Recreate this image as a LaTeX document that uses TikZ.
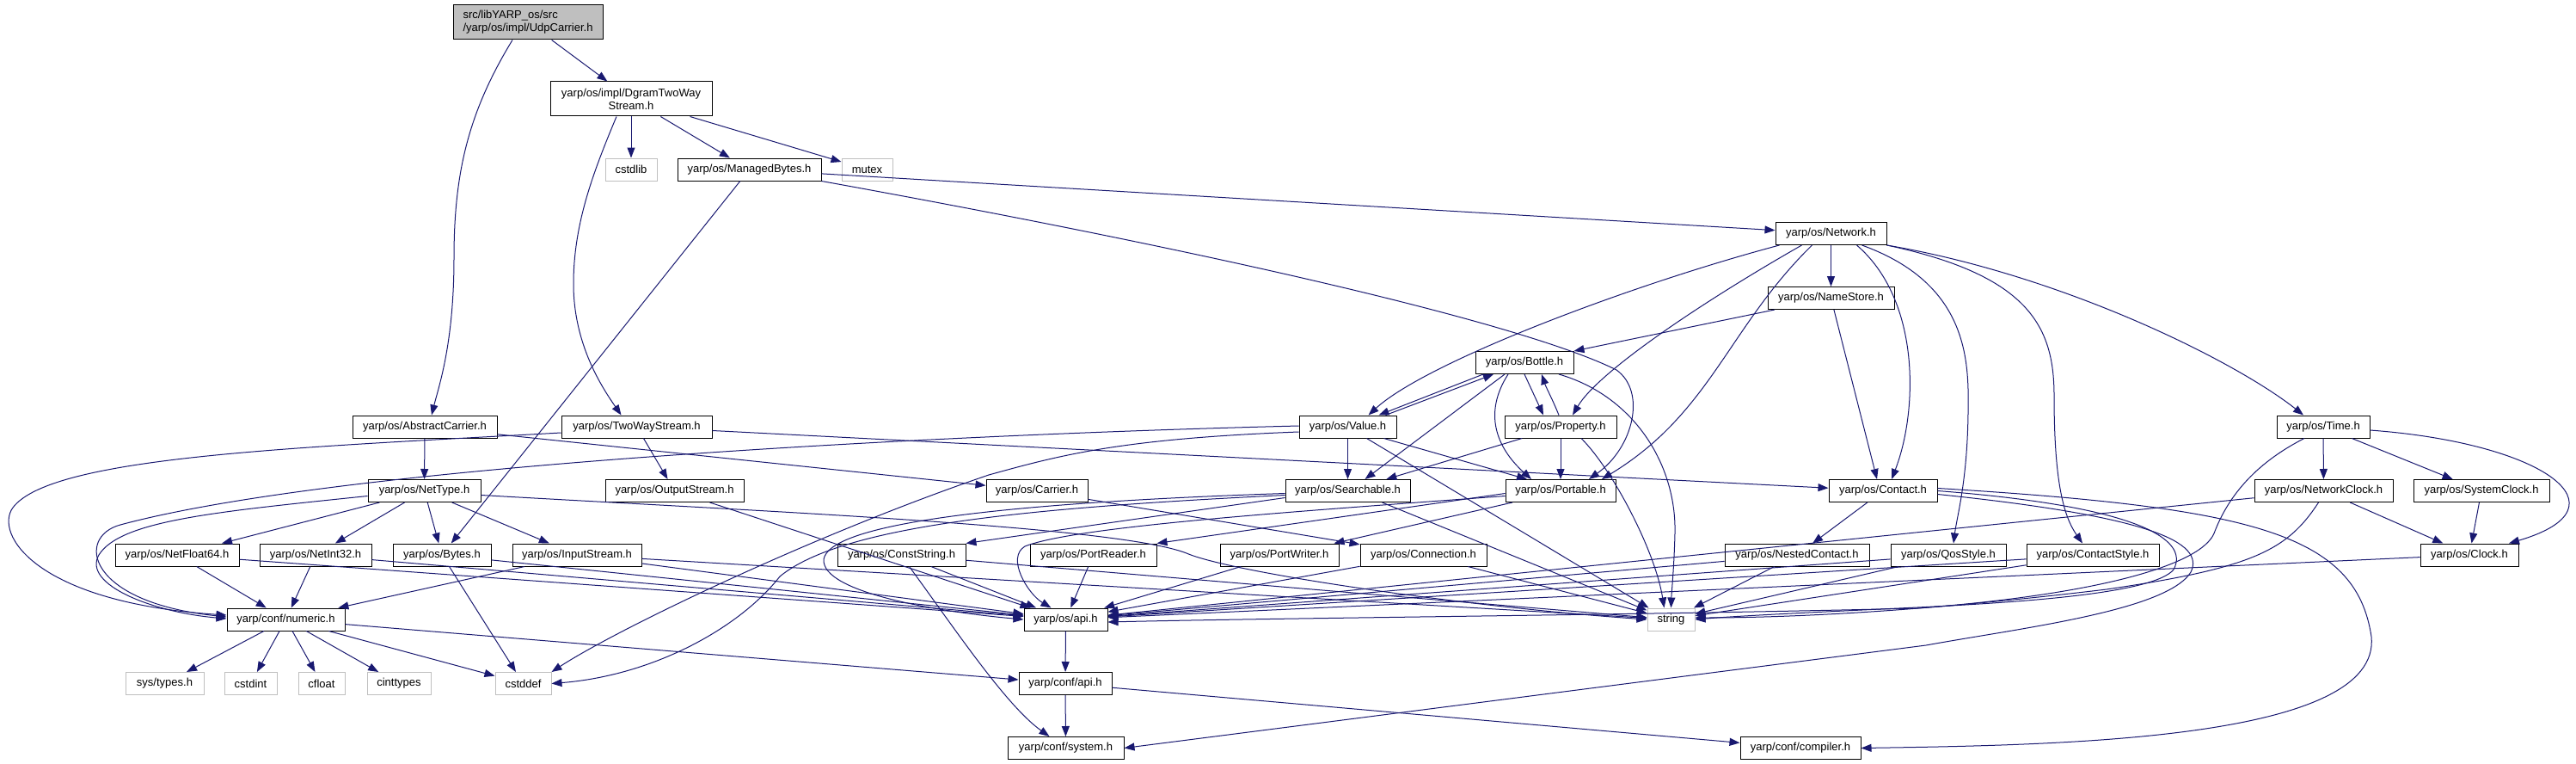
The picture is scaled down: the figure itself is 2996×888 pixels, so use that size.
\documentclass[tikz,border=0pt]{standalone}
\usepackage{fontspec}
\newfontfamily\hfont{Liberation Sans}
\usetikzlibrary{arrows.meta}
\definecolor{edgeblue}{HTML}{191970}
\definecolor{sysgray}{HTML}{BFBFBF}

\begin{document}
\begin{tikzpicture}[
  x=1pt, y=-1pt,
  >={Triangle[length=12pt,width=9pt]},
  hdr/.style={draw=black, line width=1pt, fill=white, inner sep=0pt,
    minimum height=26pt, font=\hfont\fontsize{13}{15}\selectfont},
  sys/.style={hdr, draw=sysgray},
  root/.style={hdr, fill=sysgray, minimum height=40pt},
  inc/.style={draw=edgeblue, line width=1pt, ->},
  every edge/.style={inc},
]
\useasboundingbox (0,0) rectangle (2996,888);

\node[root, minimum width=174pt, align=left] (udp) at (614,26) {src/libYARP\_os/src\\/yarp/os/impl/UdpCarrier.h};
\node[hdr, minimum width=188pt, minimum height=40pt, align=center] (dgram) at (734,115) {yarp/os/impl/DgramTwoWay\\Stream.h};
\node[sys, minimum width=60pt]  (cstdlib)    at (734,197)      {cstdlib};
\node[hdr, minimum width=167pt] (mbytes)     at (871.5,197)    {yarp/os/ManagedBytes.h};
\node[sys, minimum width=59pt]  (mutex)      at (1008.5,197)   {mutex};
\node[hdr, minimum width=129pt] (network)    at (2129.5,271.5) {yarp/os/Network.h};
\node[hdr, minimum width=147pt] (namestore)  at (2129.5,346.5) {yarp/os/NameStore.h};
\node[hdr, minimum width=114pt] (bottle)     at (1773,421.5)   {yarp/os/Bottle.h};
\node[hdr, minimum width=168pt] (abscarrier) at (494,496)      {yarp/os/AbstractCarrier.h};
\node[hdr, minimum width=175pt] (twoway)     at (740.5,496)    {yarp/os/TwoWayStream.h};
\node[hdr, minimum width=113pt] (value)      at (1567.5,496)   {yarp/os/Value.h};
\node[hdr, minimum width=130pt] (property)   at (1815,496)     {yarp/os/Property.h};
\node[hdr, minimum width=108pt] (time)       at (2702,496)     {yarp/os/Time.h};
\node[hdr, minimum width=131pt] (nettype)    at (493.5,570.5)  {yarp/os/NetType.h};
\node[hdr, minimum width=161pt] (outstream)  at (784.5,570.5)  {yarp/os/OutputStream.h};
\node[hdr, minimum width=118pt] (carrier)    at (1206,570.5)   {yarp/os/Carrier.h};
\node[hdr, minimum width=145pt] (searchable) at (1567.5,570.5) {yarp/os/Searchable.h};
\node[hdr, minimum width=128pt] (portable)   at (1815,570.5)   {yarp/os/Portable.h};
\node[hdr, minimum width=126pt] (contact)    at (2190,570.5)   {yarp/os/Contact.h};
\node[hdr, minimum width=161pt] (netclock)   at (2702.5,570.5) {yarp/os/NetworkClock.h};
\node[hdr, minimum width=158pt] (sysclock)   at (2886,570.5)   {yarp/os/SystemClock.h};
\node[hdr, minimum width=144pt] (netfloat)   at (206,645)      {yarp/os/NetFloat64.h};
\node[hdr, minimum width=130pt] (netint)     at (367,645)      {yarp/os/NetInt32.h};
\node[hdr, minimum width=114pt] (bytes)      at (514,645)      {yarp/os/Bytes.h};
\node[hdr, minimum width=150pt] (instream)   at (671,645)      {yarp/os/InputStream.h};
\node[hdr, minimum width=149pt] (conststr)   at (1048.5,645)   {yarp/os/ConstString.h};
\node[hdr, minimum width=147pt] (portreader) at (1271.5,645)   {yarp/os/PortReader.h};
\node[hdr, minimum width=138pt] (portwriter) at (1488,645)     {yarp/os/PortWriter.h};
\node[hdr, minimum width=147pt] (connection) at (1655.5,645)   {yarp/os/Connection.h};
\node[hdr, minimum width=168pt] (nested)     at (2090,645)     {yarp/os/NestedContact.h};
\node[hdr, minimum width=134pt] (qosstyle)   at (2266,645)     {yarp/os/QosStyle.h};
\node[hdr, minimum width=154pt] (cstyle)     at (2434,645)     {yarp/os/ContactStyle.h};
\node[hdr, minimum width=114pt] (clock)      at (2872,645)     {yarp/os/Clock.h};
\node[hdr, minimum width=137pt] (numeric)    at (332.5,720)    {yarp/conf/numeric.h};
\node[hdr, minimum width=97pt]  (osapi)      at (1239.5,720)   {yarp/os/api.h};
\node[sys, minimum width=55pt]  (string)     at (1943.5,720)   {string};
\node[sys, minimum width=91pt]  (systypes)   at (191.5,794.5)  {sys/types.h};
\node[sys, minimum width=61pt]  (cstdint)    at (291.5,794.5)  {cstdint};
\node[sys, minimum width=54pt]  (cfloat)     at (374,794.5)    {cfloat};
\node[sys, minimum width=74pt]  (cinttypes)  at (464,794.5)    {cinttypes};
\node[sys, minimum width=65pt]  (cstddef)    at (608.5,794.5)  {cstddef};
\node[hdr, minimum width=108pt] (confapi)    at (1239,794.5)   {yarp/conf/api.h};
\node[hdr, minimum width=135pt] (system)     at (1239.5,869.5) {yarp/conf/system.h};
\node[hdr, minimum width=140pt] (compiler)   at (2094,869.5)   {yarp/conf/compiler.h};

\path (udp) edge (dgram)
      (dgram) edge (cstdlib) edge (mbytes) edge (mutex)
      (mbytes) edge (bytes) edge (network)
      (network) edge (namestore)
      (namestore) edge (bottle.north east) edge ([xshift=-7pt]contact.north)
      (abscarrier) edge (nettype) edge (carrier)
      (twoway) edge (outstream) edge (contact)
      (nettype) edge (netfloat) edge (netint) edge (bytes) edge (instream)
      (netfloat) edge (numeric) edge (osapi)
      (netint) edge (numeric) edge (osapi)
      (bytes) edge (cstddef) edge (osapi)
      (instream) edge (numeric) edge (osapi) edge (string)
      (outstream) edge (osapi)
      (carrier) edge (connection)
      ([xshift=-48pt]bottle.south) edge ([xshift=36pt]value.north)
      ([xshift=44pt]value.north) edge ([xshift=-36pt]bottle.south)
      ([xshift=-23pt]bottle.south) edge ([xshift=20pt]searchable.north)
      (bottle.south) edge ([xshift=-20pt]property.north)
      (value) edge (searchable)
      ([xshift=42pt]value.south) edge ([xshift=-39pt]portable.north)
      ([xshift=22pt]value.south) edge ([xshift=2pt]string.north west)
      (property) edge (searchable) edge (portable)
      ([xshift=40pt]searchable.south) edge ([yshift=-3pt]string.north west)
      ([yshift=-8pt]searchable.west) edge (conststr.north east)
      ([yshift=-3pt]portable.west) edge (portreader.north east)
      ([xshift=-56pt]portable.south) edge ([xshift=-6pt]portwriter.north east)
      (conststr) edge (osapi) edge (string)
      (portreader) edge (osapi)
      (portwriter) edge (osapi)
      (connection) edge (osapi) edge (string)
      (osapi) edge (confapi)
      (confapi) edge (system) edge (compiler)
      (numeric) edge (systypes) edge (cstdint) edge (cfloat) edge (cinttypes) edge (cstddef) edge (confapi)
      (contact) edge (nested)
      (nested) edge (osapi) edge (string)
      (qosstyle) edge (osapi) edge (string)
      (cstyle) edge (osapi) edge (string)
      (time) edge (netclock) edge (sysclock)
      (netclock) edge (clock) edge (osapi)
      (sysclock) edge (clock)
      (clock) edge (osapi);

\draw[inc] ([xshift=-18pt]udp.south) .. controls (545,130) and (528,200) .. (528,300) .. controls (528,400) and (510,450) .. ([xshift=8pt]abscarrier.north);
\draw[inc] ([xshift=-17pt]dgram.south) .. controls (690,200) and (667,260) .. (667,330) .. controls (667,400) and (700,450) .. ([xshift=-18pt]twoway.north);
\draw[inc] (mbytes.south east) .. controls (1450,300) and (1780,380) .. (1880,430) .. controls (1915,455) and (1900,520) .. ([xshift=33pt]portable.north);
\draw[inc] ([xshift=-60pt]network.south) .. controls (1900,330) and (1660,420) .. ([xshift=24pt]value.north);
\draw[inc] ([xshift=-34pt]network.south) .. controls (1990,345) and (1860,430) .. ([xshift=14pt]property.north);
\draw[inc] ([xshift=-22pt]network.south) .. controls (2010,380) and (1990,480) .. ([xshift=48pt]portable.north);
\draw[inc] ([xshift=30pt]network.south) .. controls (2235,350) and (2230,480) .. ([xshift=10pt]contact.north);
\draw[inc] ([xshift=36pt]network.south) .. controls (2290,330) and (2290,420) .. (2289,480) .. controls (2288,560) and (2276,600) .. ([xshift=6pt]qosstyle.north);
\draw[inc] (network.south east) .. controls (2360,320) and (2389,380) .. (2389,460) .. controls (2389,560) and (2400,600) .. ([xshift=-12pt]cstyle.north);
\draw[inc] (network.south east) .. controls (2400,320) and (2600,420) .. ([xshift=-23pt]time.north);
\draw[inc] ([xshift=-2pt]property.north) .. controls (1806,465) and (1798,450) .. ([xshift=20pt]bottle.south);
\draw[inc] ([xshift=-19pt]bottle.south) .. controls (1725,480) and (1740,520) .. ([xshift=-34pt]portable.north);
\draw[inc] ([xshift=40pt]bottle.south) .. controls (1900,460) and (1950,540) .. (1948,620) .. controls (1947,660) and (1944,690) .. (string.north);
\draw[inc] ([xshift=24pt]property.south) .. controls (1875,545) and (1925,640) .. ([xshift=-8pt]string.north);
\draw[inc] ([yshift=1pt]value.west) .. controls (1100,505) and (400,540) .. (140,610) .. controls (88,624) and (100,700) .. ([yshift=3pt]numeric.west);
\draw[inc] ([yshift=-7pt]twoway.west) .. controls (350,520) and (60,530) .. (15,590) .. controls (-7,620) and (40,700) .. ([yshift=5pt]numeric.west);
\draw[inc] ([yshift=-6pt]nettype.west) .. controls (250,595) and (140,605) .. (115,645) .. controls (95,680) and (180,712) .. ([yshift=1pt]numeric.west);
\draw[inc] ([yshift=-5pt]nettype.east) .. controls (900,595) and (1300,612) .. (1380,643) .. controls (1430,665) and (1700,705) .. (string.west);
\draw[inc] ([yshift=-3pt]searchable.west) .. controls (1150,585) and (965,610) .. (958,650) .. controls (955,690) and (1100,712) .. (osapi.west);
\draw[inc] ([yshift=-5pt]searchable.west) .. controls (1200,590) and (980,610) .. (907,670) .. controls (860,730) and (760,785) .. (cstddef.east);
\draw[inc] ([yshift=-6pt]value.west) .. controls (1300,510) and (1230,530) .. (1150,552) .. controls (950,620) and (720,730) .. (cstddef.north east);
\draw[inc] ([yshift=-6pt]portable.west) .. controls (1500,595) and (1250,612) .. (1192,635) .. controls (1170,648) and (1195,690) .. ([xshift=-17pt]osapi.north);
\draw[inc] ([xshift=9pt]conststr.south) .. controls (1110,730) and (1170,820) .. ([xshift=-19pt]system.north);
\draw[inc] (contact.east) .. controls (2480,588) and (2548,625) .. (2528,662) .. controls (2505,690) and (2350,700) .. (2230,706) .. controls (2100,712) and (2020,716) .. (string.east);
\draw[inc] ([yshift=-4pt]contact.east) .. controls (2500,600) and (2565,630) .. (2548,665) .. controls (2520,710) and (2350,730) .. (2240,750) -- (system.east);
\draw[inc] ([yshift=3pt]contact.east) .. controls (2620,590) and (2740,620) .. (2758,740) .. controls (2770,860) and (2400,866) .. (compiler.east);
\draw[inc] ([yshift=-4pt]time.east) .. controls (2960,515) and (3060,590) .. ([xshift=46pt]clock.north);
\draw[inc] ([xshift=-22pt]time.south) .. controls (2620,540) and (2590,580) .. (2575,620) .. controls (2560,655) and (2450,690) .. (2230,707) .. controls (1900,715) and (1500,718) .. ([yshift=-3pt]osapi.east);
\draw[inc] ([xshift=-6pt]netclock.south) .. controls (2660,640) and (2620,660) .. (2450,685) .. controls (2200,715) and (2050,718) .. ([yshift=2pt]string.east);
\end{tikzpicture}
\end{document}
